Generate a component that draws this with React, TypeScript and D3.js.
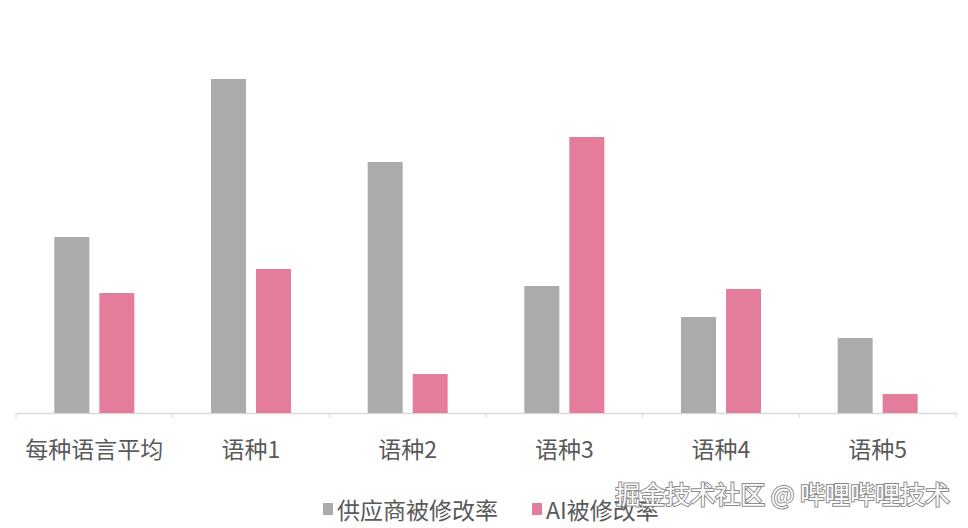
import { useEffect, useRef } from 'react';
import * as d3 from 'd3';

const categories = ['每种语言平均', '语种1', '语种2', '语种3', '语种4', '语种5'];
const vendorRates = [17.6, 33.4, 25.1, 12.7, 9.6, 7.5];
const aiRates = [12.0, 14.4, 3.9, 27.6, 12.4, 1.9];
const seriesNames = ['供应商被修改率', 'AI被修改率'];
const seriesColors = ['#ababab', '#e47c9b'];
const watermark = '掘金技术社区 @ 哔哩哔哩技术';

const FONT = '"Noto Sans CJK SC", "Noto Sans", sans-serif';

export default function App() {
  const svgRef = useRef<SVGSVGElement>(null);
  const width = 968;
  const height = 528;

  useEffect(() => {
    if (!svgRef.current) return;
    const svg = d3.select(svgRef.current);
    svg.selectAll('*').remove();

    const left = 16;
    const right = 956;
    const baseline = 413;

    const x = d3.scaleBand().domain(categories).range([left, right]).padding(0);
    const y = d3.scaleLinear().domain([0, 40]).range([baseline, 13]);

    const barW = 35;
    const gap = 10;

    const g = svg.append('g');

    // axis line + ticks
    const axis = d3.axisBottom(x).tickSize(0).tickFormat(() => '');
    const ax = g.append('g').attr('transform', `translate(0,${baseline})`).call(axis);
    ax.select('.domain').attr('stroke', '#d9d9d9').attr('stroke-width', 1.5);

    const bounds = categories.map((c) => x(c) as number).concat([right]);
    g.selectAll('.tick-mark')
      .data(bounds)
      .enter()
      .append('line')
      .attr('x1', (d) => d)
      .attr('x2', (d) => d)
      .attr('y1', baseline)
      .attr('y2', baseline + 5)
      .attr('stroke', '#d9d9d9')
      .attr('stroke-width', 1);

    const series = [vendorRates, aiRates];
    series.forEach((vals, si) => {
      g.selectAll(`.bar-${si}`)
        .data(vals)
        .enter()
        .append('rect')
        .attr('x', (_, i) => {
          const cx = (x(categories[i]) as number) + x.bandwidth() / 2;
          return si === 0 ? cx - gap / 2 - barW : cx + gap / 2;
        })
        .attr('y', (d) => y(d))
        .attr('width', barW)
        .attr('height', (d) => baseline - y(d))
        .attr('fill', seriesColors[si]);
    });

    // category labels
    g.selectAll('.cat')
      .data(categories)
      .enter()
      .append('text')
      .attr('x', (d) => (x(d) as number) + x.bandwidth() / 2)
      .attr('y', 458)
      .attr('text-anchor', 'middle')
      .attr('font-family', FONT)
      .attr('font-size', 23)
      .attr('fill', '#595959')
      .text((d) => d);

    // legend
    const legendX = [323, 532];
    seriesNames.forEach((name, i) => {
      g.append('rect')
        .attr('x', legendX[i])
        .attr('y', 503)
        .attr('width', 10)
        .attr('height', 12)
        .attr('fill', seriesColors[i]);
      g.append('text')
        .attr('x', legendX[i] + 14)
        .attr('y', 519)
        .attr('font-family', FONT)
        .attr('font-size', 23)
        .attr('fill', '#595959')
        .text(name);
    });

    // watermark
    g.append('text')
      .attr('x', 950)
      .attr('y', 504)
      .attr('text-anchor', 'end')
      .attr('font-family', FONT)
      .attr('font-size', 25)
      .attr('fill', '#ffffff')
      .attr('stroke', '#8a8a8a')
      .attr('stroke-width', 2)
      .attr('paint-order', 'stroke')
      .text(watermark);
  }, []);

  return (
    <svg
      ref={svgRef}
      width={width}
      height={height}
      style={{ position: 'absolute', left: 0, top: 0, background: '#fff' }}
    />
  );
}
